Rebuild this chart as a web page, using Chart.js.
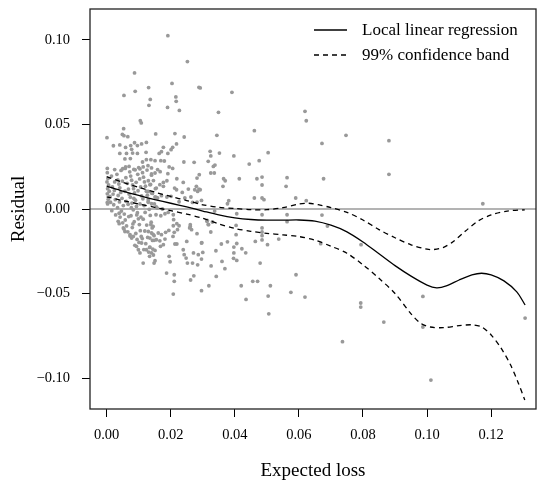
<!DOCTYPE html>
<html lang="en">
<head>
    <meta charset="UTF-8">
    <title>Residual vs expected loss</title>
    <script src="https://cdn.jsdelivr.net/npm/chart.js"></script>
    <style>
        html, body { margin: 0; padding: 0; background: #fff; }
        canvas { display: block; }
    </style>
</head>
<body>
    <canvas id="resid-chart" width="537" height="482"></canvas>

    <script>
        // axis ranges and ticks
        const xRange = [-0.0052, 0.134];
        const yRange = [-0.1183, 0.1183];
        const xTicks = [0, 0.02, 0.04, 0.06, 0.08, 0.10, 0.12];
        const yTicks = [-0.10, -0.05, 0, 0.05, 0.10];

        const legendLabels = ['Local linear regression', '99% confidence band'];

        // residuals: [expected loss, residual]
        const residualPoints = [
            [0.0191,0.1025],[0.0252,0.0872],[0.0087,0.0805],[0.0204,0.0743],[0.0288,0.0720],[0.0131,0.0718],
            [0.0089,0.0696],[0.0054,0.0672],[0.0216,0.0663],[0.0136,0.0648],[0.0217,0.0637],[0.0132,0.0613],
            [0.0190,0.0601],[0.0227,0.0583],[0.0105,0.0522],[0.0108,0.0509],[0.0053,0.0475],[0.0049,0.0441],
            [0.0054,0.0434],[0.0066,0.0428],[0.0001,0.0422],[0.0153,0.0444],[0.0213,0.0446],[0.0242,0.0426],
            [0.0218,0.0385],[0.0206,0.0365],
            [0.0021,0.0374],[0.0041,0.0379],[0.0059,0.0364],[0.0075,0.0375],[0.0087,0.0392],[0.0096,0.0375],
            [0.0109,0.0385],[0.0124,0.0394],[0.0041,0.0329],[0.0062,0.0329],[0.0081,0.0331],[0.0096,0.0329],
            [0.0123,0.0335],[0.0078,0.0353],[0.0057,0.0296],[0.0074,0.0298],[0.0112,0.0278],[0.0124,0.0292],
            [0.0002,0.0240],[0.0025,0.0233],[0.0050,0.0238],[0.0059,0.0249],[0.0070,0.0252],[0.0085,0.0234],
            [0.0104,0.0237],[0.0114,0.0249],[0.0129,0.0256],
            [0.0201,0.0351],[0.0177,0.0365],[0.0171,0.0339],[0.0164,0.0329],[0.0191,0.0329],[0.0138,0.0292],
            [0.0151,0.0286],[0.0169,0.0286],[0.0180,0.0284],[0.0241,0.0278],[0.0273,0.0276],[0.0195,0.0249],
            [0.0206,0.0240],[0.0140,0.0243],[0.0159,0.0233],[0.0167,0.0221],[0.0140,0.0207],[0.0151,0.0213],
            [0.0191,0.0209],[0.0289,0.0203],[0.0282,0.0183],[0.0219,0.0179],[0.0188,0.0167],[0.0177,0.0157],
            [0.0239,0.0157],[0.0130,0.0167],[0.0135,0.0144],[0.0166,0.0144],[0.0155,0.0124],[0.0177,0.0134],
            [0.0212,0.0124],[0.0218,0.0114],[0.0280,0.0134],[0.0288,0.0118],[0.0275,0.0114],[0.0284,0.0104],
            [0.0236,0.0098],[0.0255,0.0118],[0.0130,0.0104],[0.0140,0.0095],[0.0171,0.0079],[0.0188,0.0071],
            [0.0201,0.0075],[0.0151,0.0071],[0.0159,0.0065],[0.0244,0.0065],[0.0263,0.0071],[0.0268,0.0039],
            [0.0282,0.0041],[0.0296,0.0051],[0.0226,0.0043],[0.0130,0.0055],
            [0.0130,0.0045],[0.0140,0.0031],[0.0155,0.0012],[0.0174,0.0000],[0.0182,-0.0028],[0.0169,-0.0040],
            [0.0192,-0.0020],[0.0154,-0.0034],[0.0208,-0.0034],[0.0209,-0.0063],[0.0219,-0.0087],[0.0226,-0.0099],
            [0.0208,-0.0099],[0.0261,-0.0093],[0.0259,-0.0112],[0.0265,-0.0122],[0.0282,-0.0146],[0.0296,-0.0201],
            [0.0300,-0.0257],[0.0138,-0.0093],[0.0145,-0.0103],[0.0130,-0.0133],[0.0140,-0.0142],[0.0148,-0.0158],
            [0.0161,-0.0142],[0.0171,-0.0152],[0.0184,-0.0138],[0.0194,-0.0127],[0.0211,-0.0138],[0.0207,-0.0162],
            [0.0221,-0.0122],[0.0135,-0.0172],[0.0143,-0.0186],[0.0155,-0.0182],[0.0166,-0.0188],[0.0182,-0.0178],
            [0.0168,-0.0221],[0.0177,-0.0211],[0.0213,-0.0207],[0.0219,-0.0207],[0.0250,-0.0192],[0.0134,-0.0227],
            [0.0144,-0.0237],[0.0151,-0.0245],[0.0140,-0.0260],[0.0146,-0.0272],[0.0134,-0.0280],[0.0151,-0.0306],
            [0.0148,-0.0320],[0.0239,-0.0241],[0.0242,-0.0270],[0.0248,-0.0290],[0.0252,-0.0320],[0.0268,-0.0320],
            [0.0271,-0.0260],[0.0286,-0.0270],[0.0284,-0.0330],[0.0296,-0.0296],[0.0195,-0.0280],[0.0198,-0.0312],
            [0.0187,-0.0379],[0.0211,-0.0389],[0.0211,-0.0428],[0.0272,-0.0395],[0.0262,-0.0420],[0.0208,-0.0503],
            [0.0296,-0.0483],[0.0319,-0.0454],
            [0.0002,0.0039],[0.0114,-0.0320],[0.0036,-0.0073],[0.0039,-0.0087],[0.0052,-0.0112],[0.0057,-0.0133],
            [0.0073,-0.0152],[0.0078,-0.0172],[0.0083,-0.0162],[0.0093,-0.0221],[0.0099,-0.0241],[0.0104,-0.0260],
            [0.0109,-0.0201],[0.0124,-0.0241],[0.0261,-0.0103],[0.0313,-0.0073],[0.0318,-0.0093],
            // dense block near zero
            [0.0002,0.0215],[0.0004,0.0180],[0.0001,0.0160],[0.0006,0.0142],[0.0003,0.0120],[0.0008,0.0105],
            [0.0002,0.0090],[0.0010,0.0075],[0.0005,0.0058],[0.0012,0.0040],[0.0003,0.0030],[0.0015,0.0195],
            [0.0018,0.0130],[0.0020,0.0088],[0.0022,0.0025],[0.0025,0.0160],[0.0027,0.0055],[0.0016,-0.0010],
            [0.0028,-0.0035],[0.0024,0.0110],
            [0.0032,0.0205],[0.0035,0.0172],[0.0038,0.0148],[0.0041,0.0125],[0.0044,0.0098],[0.0036,0.0080],
            [0.0048,0.0063],[0.0040,0.0042],[0.0052,0.0020],[0.0034,0.0008],[0.0046,-0.0012],[0.0055,-0.0030],
            [0.0042,-0.0048],[0.0058,-0.0065],[0.0050,-0.0082],[0.0062,-0.0100],[0.0054,-0.0118],[0.0066,-0.0135],
            [0.0060,0.0185],[0.0064,0.0152],[0.0068,0.0118],[0.0057,0.0105],[0.0070,0.0088],[0.0061,0.0045],
            [0.0067,0.0028],[0.0049,0.0165],[0.0039,-0.0025],[0.0069,-0.0045],[0.0045,0.0228],[0.0058,0.0240],
            [0.0072,0.0220],[0.0075,0.0195],[0.0078,0.0170],[0.0081,0.0142],[0.0084,0.0120],[0.0087,0.0095],
            [0.0074,0.0070],[0.0090,0.0052],[0.0079,0.0035],[0.0093,0.0015],[0.0083,-0.0005],[0.0096,-0.0022],
            [0.0076,-0.0040],[0.0099,-0.0058],[0.0086,-0.0075],[0.0102,-0.0092],[0.0080,-0.0110],[0.0105,-0.0128],
            [0.0091,-0.0145],[0.0108,-0.0162],[0.0095,-0.0180],[0.0101,-0.0198],[0.0088,-0.0215],[0.0097,0.0205],
            [0.0103,0.0178],[0.0092,0.0158],[0.0106,0.0130],[0.0098,0.0108],[0.0109,0.0078],[0.0085,0.0062],
            [0.0104,0.0030],[0.0077,0.0008],[0.0094,-0.0035],[0.0107,-0.0048],[0.0082,-0.0088],[0.0073,-0.0160],
            [0.0100,0.0245],[0.0089,0.0232],
            [0.0112,0.0215],[0.0115,0.0188],[0.0118,0.0160],[0.0121,0.0135],[0.0124,0.0105],[0.0127,0.0082],
            [0.0113,0.0060],[0.0130,0.0040],[0.0117,0.0020],[0.0133,-0.0002],[0.0120,-0.0020],[0.0136,-0.0038],
            [0.0114,-0.0060],[0.0139,-0.0078],[0.0125,-0.0095],[0.0142,-0.0112],[0.0119,-0.0130],[0.0145,-0.0150],
            [0.0128,-0.0168],[0.0148,-0.0185],[0.0122,-0.0205],[0.0135,-0.0225],[0.0116,-0.0240],[0.0131,-0.0255],
            [0.0140,0.0200],[0.0146,0.0168],[0.0137,0.0145],[0.0152,0.0120],[0.0143,0.0092],[0.0155,0.0068],
            [0.0149,0.0030],[0.0158,0.0005],[0.0126,0.0230],[0.0111,-0.0175],
            // sparser right part
            [0.0292,0.0716],[0.0391,0.0690],[0.0349,0.0572],[0.0344,0.0436],[0.0461,0.0463],[0.0619,0.0578],
            [0.0623,0.0522],[0.0747,0.0436],[0.0672,0.0388],[0.0323,0.0341],[0.0325,0.0314],[0.0317,0.0282],
            [0.0352,0.0331],[0.0397,0.0314],[0.0333,0.0252],[0.0338,0.0260],[0.0325,0.0213],[0.0336,0.0213],
            [0.0292,0.0114],[0.0445,0.0266],[0.0476,0.0286],[0.0504,0.0333],[0.0365,0.0179],[0.0370,0.0167],
            [0.0363,0.0134],[0.0414,0.0179],[0.0469,0.0179],[0.0485,0.0189],[0.0485,0.0142],[0.0560,0.0134],
            [0.0563,0.0185],[0.0677,0.0179],[0.0461,0.0065],[0.0485,0.0065],[0.0491,0.0055],[0.0381,0.0049],
            [0.0377,0.0031],[0.0590,0.0065],[0.0623,0.0049],[0.0337,-0.0012],[0.0314,-0.0067],[0.0330,-0.0077],
            [0.0317,-0.0091],[0.0406,-0.0028],[0.0485,-0.0034],[0.0563,-0.0034],[0.0563,-0.0075],[0.0672,-0.0036],
            [0.0689,-0.0101],[0.0404,-0.0097],[0.0325,-0.0136],[0.0404,-0.0152],[0.0485,-0.0112],[0.0485,-0.0136],
            [0.0485,-0.0158],[0.0485,-0.0183],[0.0464,-0.0192],[0.0502,-0.0211],[0.0537,-0.0178],[0.0668,-0.0205],
            [0.0297,-0.0199],[0.0341,-0.0247],[0.0358,-0.0207],[0.0377,-0.0194],[0.0406,-0.0204],[0.0397,-0.0225],
            [0.0397,-0.0260],[0.0406,-0.0304],[0.0396,-0.0292],[0.0422,-0.0235],[0.0434,-0.0259],[0.0479,-0.0320],
            [0.0326,-0.0337],[0.0360,-0.0310],[0.0369,-0.0353],[0.0342,-0.0399],[0.0420,-0.0454],[0.0456,-0.0428],
            [0.0471,-0.0428],[0.0511,-0.0454],[0.0591,-0.0389],[0.0575,-0.0493],[0.0504,-0.0515],[0.0619,-0.0521],
            [0.0435,-0.0535],[0.0506,-0.0620],[0.0736,-0.0785],
            [0.0881,0.0404],[0.0881,0.0205],[0.1174,0.0031],[0.0794,-0.0211],[0.0987,-0.0517],[0.0793,-0.0556],
            [0.0793,-0.0580],[0.0865,-0.0669],[0.0987,-0.0698],[0.1306,-0.0645],[0.1012,-0.1012]
        ];

        // local linear fit
        const fitCurve = [
            [0.000,0.0136],[0.005,0.0106],[0.010,0.0080],[0.015,0.0056],[0.020,0.0034],[0.025,0.0012],
            [0.030,-0.0012],[0.035,-0.0035],[0.040,-0.0052],[0.045,-0.0062],[0.050,-0.0066],[0.055,-0.0066],
            [0.060,-0.0065],[0.065,-0.0072],[0.070,-0.0096],[0.075,-0.0135],[0.080,-0.0195],[0.085,-0.0265],
            [0.090,-0.0335],[0.095,-0.0397],[0.100,-0.0450],[0.103,-0.0466],[0.106,-0.0455],[0.110,-0.0420],
            [0.114,-0.0390],[0.117,-0.0380],[0.120,-0.0390],[0.124,-0.0425],[0.128,-0.0490],[0.1306,-0.0568]
        ];

        // 99% band, upper and lower edge
        const bandUpper = [
            [0.000,0.0191],[0.005,0.0158],[0.010,0.0128],[0.015,0.0100],[0.020,0.0074],[0.025,0.0050],
            [0.030,0.0025],[0.035,0.0010],[0.040,0.0003],[0.045,-0.0004],[0.050,-0.0004],[0.055,0.0008],
            [0.060,0.0030],[0.063,0.0034],[0.066,0.0026],[0.070,0.0008],[0.075,-0.0020],[0.080,-0.0065],
            [0.085,-0.0122],[0.090,-0.0170],[0.095,-0.0212],[0.100,-0.0238],[0.102,-0.0240],[0.105,-0.0228],
            [0.108,-0.0195],[0.112,-0.0130],[0.116,-0.0070],[0.120,-0.0035],[0.125,-0.0012],[0.1305,-0.0005]
        ];
        const bandLower = [
            [0.000,0.0072],[0.005,0.0050],[0.010,0.0030],[0.015,0.0010],[0.020,-0.0010],[0.025,-0.0030],
            [0.030,-0.0055],[0.035,-0.0088],[0.040,-0.0115],[0.045,-0.0132],[0.050,-0.0144],[0.055,-0.0153],
            [0.060,-0.0163],[0.065,-0.0184],[0.070,-0.0220],[0.075,-0.0262],[0.080,-0.0330],[0.085,-0.0410],
            [0.090,-0.0500],[0.095,-0.0620],[0.098,-0.0676],[0.101,-0.0698],[0.105,-0.0702],[0.110,-0.0690],
            [0.114,-0.0685],[0.117,-0.0697],[0.120,-0.0745],[0.123,-0.0820],[0.126,-0.0920],[0.1285,-0.1030],
            [0.1305,-0.1130]
        ];

        const serif = '"Liberation Serif", "Times New Roman", serif';
        const toXY = arr => arr.map(p => ({ x: p[0], y: p[1] }));
        const fmt = v => (v < 0 ? '\u2212' : '') + Math.abs(v).toFixed(2);

        // box around the plot region + horizontal reference at zero
        const framePlugin = {
            id: 'frame',
            beforeDatasetsDraw(chart) {
                const { ctx, chartArea: a, scales } = chart;
                const y0 = scales.y.getPixelForValue(0);
                ctx.save();
                ctx.strokeStyle = '#9a9a9a';
                ctx.lineWidth = 1.3;
                ctx.beginPath();
                ctx.moveTo(a.left, y0);
                ctx.lineTo(a.right, y0);
                ctx.stroke();
                ctx.restore();
            },
            afterDraw(chart) {
                const { ctx, chartArea: a } = chart;
                ctx.save();
                ctx.strokeStyle = '#222';
                ctx.lineWidth = 1.3;
                ctx.strokeRect(a.left, a.top, a.right - a.left, a.bottom - a.top);
                ctx.restore();
            }
        };

        // legend drawn inside the top-right corner, no box
        const legendPlugin = {
            id: 'innerLegend',
            afterDatasetsDraw(chart) {
                const { ctx, chartArea: a } = chart;
                const x0 = a.right - 222;
                const rows = [
                    { y: a.top + 21, dash: [] },
                    { y: a.top + 46, dash: [5, 4] }
                ];
                ctx.save();
                ctx.font = '17px ' + serif;
                ctx.fillStyle = '#000';
                ctx.textBaseline = 'middle';
                rows.forEach((r, i) => {
                    ctx.strokeStyle = '#000';
                    ctx.lineWidth = 1.3;
                    ctx.setLineDash(r.dash);
                    ctx.beginPath();
                    ctx.moveTo(x0, r.y);
                    ctx.lineTo(x0 + 33, r.y);
                    ctx.stroke();
                    ctx.setLineDash([]);
                    ctx.fillText(legendLabels[i], x0 + 48, r.y + 1);
                });
                ctx.restore();
            }
        };

        const tickFont = { family: serif, size: 14.5 };
        const titleFont = { family: serif, size: 19 };

        new Chart(document.getElementById('resid-chart'), {
            type: 'scatter',
            data: {
                datasets: [
                    {
                        label: legendLabels[0],
                        data: toXY(fitCurve),
                        showLine: true,
                        borderColor: '#000',
                        borderWidth: 1.3,
                        pointRadius: 0,
                        tension: 0.3
                    },
                    {
                        label: legendLabels[1],
                        data: toXY(bandUpper),
                        showLine: true,
                        borderColor: '#000',
                        borderWidth: 1.3,
                        borderDash: [5, 4],
                        pointRadius: 0,
                        tension: 0.3
                    },
                    {
                        label: legendLabels[1],
                        data: toXY(bandLower),
                        showLine: true,
                        borderColor: '#000',
                        borderWidth: 1.3,
                        borderDash: [5, 4],
                        pointRadius: 0,
                        tension: 0.3
                    },
                    {
                        label: 'Residuals',
                        data: toXY(residualPoints),
                        pointRadius: 1.9,
                        pointBackgroundColor: '#999',
                        pointBorderWidth: 0
                    }
                ]
            },
            options: {
                responsive: false,
                animation: false,
                devicePixelRatio: 1,
                layout: { autoPadding: false, padding: { top: 9, right: 1, left: 0, bottom: 0 } },
                plugins: {
                    legend: { display: false },
                    tooltip: { enabled: false }
                },
                scales: {
                    x: {
                        type: 'linear',
                        min: xRange[0],
                        max: xRange[1],
                        afterBuildTicks: s => { s.ticks = xTicks.map(v => ({ value: v })); },
                        afterFit: s => { s.height = 73; s.paddingLeft = 0; s.paddingRight = 0; },
                        grid: { drawOnChartArea: false, drawTicks: true, tickLength: 8, color: '#000' },
                        border: { display: false },
                        ticks: { font: tickFont, color: '#000', padding: 9, maxRotation: 0, callback: v => fmt(v) },
                        title: { display: true, text: 'Expected loss', font: titleFont, color: '#000', padding: 0 }
                    },
                    y: {
                        type: 'linear',
                        min: yRange[0],
                        max: yRange[1],
                        afterBuildTicks: s => { s.ticks = yTicks.map(v => ({ value: v })); },
                        afterFit: s => { s.width = 90; s.paddingTop = 0; s.paddingBottom = 0; },
                        grid: { drawOnChartArea: false, drawTicks: true, tickLength: 8, color: '#000' },
                        border: { display: false },
                        ticks: { font: tickFont, color: '#000', padding: 12, callback: v => fmt(v) },
                        title: { display: true, text: 'Residual', font: titleFont, color: '#000', padding: { top: 8, bottom: 0 } }
                    }
                }
            },
            plugins: [framePlugin, legendPlugin]
        });
    </script>
</body>
</html>
